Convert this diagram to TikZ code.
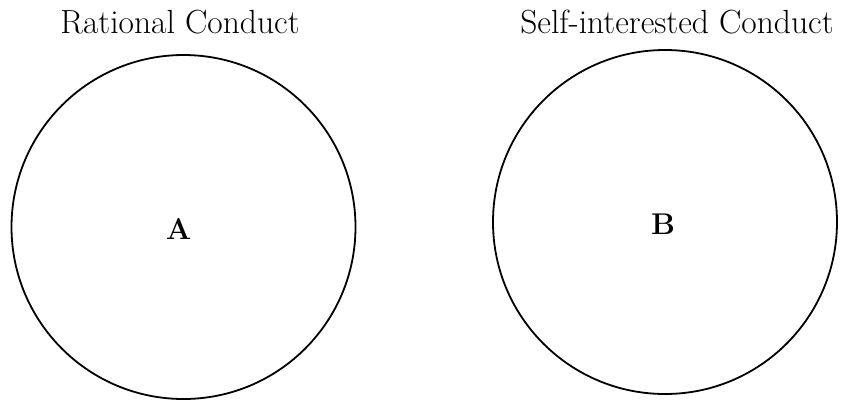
\documentclass[tikz,border=0pt]{standalone}
\usepackage{fontspec}
\usepackage{tikz}
\usetikzlibrary{positioning}

\begin{document}
\begin{tikzpicture}[x=1pt, y=1pt]
        \useasboundingbox (0,0) rectangle (843,-400);
        \tikzset{set/.style={circle, draw, line width=1.8pt, minimum size=344pt, inner sep=0pt},
                 title/.style={font=\fontsize{33.5}{40}\selectfont, anchor=base},
                 letter/.style={font=\fontsize{30}{36}\selectfont\bfseries}}

        \node[set] (R) at (183.5,-227) {};
        \node[set] (S) at (665,-222) {};
        \node[letter] (A) at (178.5,-229) {A};
        \node[letter] (B) at (663,-224.5) {B};

        \node[title] (RC) at (180,-33) {Rational Conduct};
        \node[title] (SC) at (677,-33) {Self-interested Conduct};
    \end{tikzpicture}
\end{document}
